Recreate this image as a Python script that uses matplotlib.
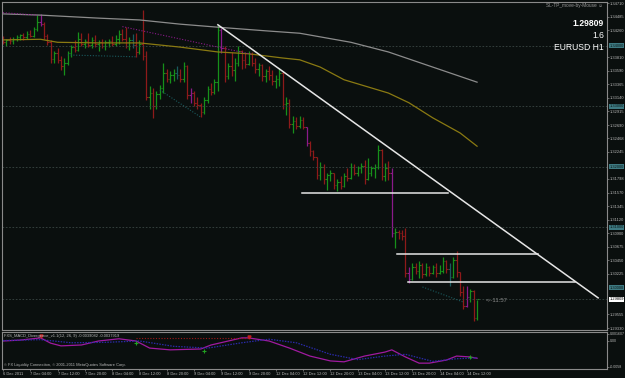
import numpy as np
import matplotlib.pyplot as plt

plt.rcParams['font.family'] = ['Liberation Sans', 'DejaVu Sans']

# EURUSD H1 bars, 6 Dec 20:00 .. 14 Dec 15:00
first_open = 1.3412
highs = [1.3416, 1.3412, 1.3414, 1.3415, 1.3418, 1.3420, 1.3422, 1.3424, 1.3426, 1.3432,
         1.3451, 1.3453, 1.3440, 1.3420, 1.3410, 1.3392, 1.3396, 1.3384, 1.3380, 1.3392,
         1.3402, 1.3410, 1.3423, 1.3422, 1.3412, 1.3421, 1.3414, 1.3418, 1.3410, 1.3412,
         1.3410, 1.3412, 1.3416, 1.3418, 1.3426, 1.3428, 1.3431, 1.3414, 1.3420, 1.3422,
         1.3410, 1.3459, 1.3392, 1.3334, 1.3330, 1.3326, 1.3336, 1.3372, 1.3362, 1.3358,
         1.3362, 1.3366, 1.3362, 1.3374, 1.3368, 1.3330, 1.3326, 1.3316, 1.3305, 1.3316,
         1.3334, 1.3338, 1.3345, 1.3435, 1.3430, 1.3400, 1.3372, 1.3390, 1.3380, 1.3400,
         1.3394, 1.3388, 1.3392, 1.3390, 1.3380, 1.3372, 1.3370, 1.3362, 1.3366, 1.3360,
         1.3352, 1.3364, 1.3358, 1.3316, 1.3312, 1.3284, 1.3282, 1.3284, 1.3282, 1.3266,
         1.3242, 1.3228, 1.3216, 1.3208, 1.3204, 1.3190, 1.3194, 1.3190, 1.3180, 1.3184,
         1.3190, 1.3198, 1.3206, 1.3204, 1.3202, 1.3206, 1.3212, 1.3214, 1.3202, 1.3204,
         1.3236, 1.3230, 1.3206, 1.3210, 1.3198, 1.3098, 1.3096, 1.3096, 1.3098, 1.3034,
         1.3040, 1.3040, 1.3044, 1.3040, 1.3040, 1.3036, 1.3038, 1.3040, 1.3038, 1.3050,
         1.3046, 1.3040, 1.3050, 1.3060, 1.3026, 1.3002, 1.3002, 1.2998, 1.2996, 1.2980]
lows = [1.3404, 1.3400, 1.3403, 1.3404, 1.3408, 1.3410, 1.3410, 1.3412, 1.3414, 1.3414,
        1.3424, 1.3433, 1.3412, 1.3402, 1.3372, 1.3372, 1.3372, 1.3360, 1.3352, 1.3368,
        1.3382, 1.3390, 1.3392, 1.3400, 1.3396, 1.3398, 1.3396, 1.3398, 1.3392, 1.3396,
        1.3394, 1.3398, 1.3400, 1.3400, 1.3404, 1.3408, 1.3396, 1.3394, 1.3396, 1.3382,
        1.3386, 1.3377, 1.3310, 1.3296, 1.3281, 1.3296, 1.3312, 1.3322, 1.3340, 1.3338,
        1.3342, 1.3346, 1.3340, 1.3340, 1.3312, 1.3306, 1.3300, 1.3296, 1.3282, 1.3288,
        1.3306, 1.3318, 1.3320, 1.3326, 1.3388, 1.3340, 1.3346, 1.3350, 1.3342, 1.3366,
        1.3362, 1.3364, 1.3368, 1.3366, 1.3356, 1.3350, 1.3342, 1.3340, 1.3344, 1.3336,
        1.3330, 1.3334, 1.3296, 1.3286, 1.3264, 1.3256, 1.3262, 1.3264, 1.3262, 1.3234,
        1.3218, 1.3212, 1.3180, 1.3178, 1.3172, 1.3162, 1.3176, 1.3164, 1.3160, 1.3164,
        1.3166, 1.3176, 1.3180, 1.3186, 1.3184, 1.3190, 1.3172, 1.3178, 1.3184, 1.3182,
        1.3196, 1.3178, 1.3176, 1.3178, 1.3084, 1.3066, 1.3080, 1.3078, 1.3018, 1.3008,
        1.3012, 1.3022, 1.3016, 1.3016, 1.3020, 1.3020, 1.3022, 1.3018, 1.3022, 1.3024,
        1.3024, 1.3002, 1.3016, 1.3018, 1.2986, 1.2964, 1.2968, 1.2976, 1.2944, 1.2946]
closes = [1.3406, 1.3410, 1.3408, 1.3412, 1.3415, 1.3418, 1.3414, 1.3420, 1.3417, 1.3428,
          1.3440, 1.3436, 1.3416, 1.3406, 1.3378, 1.3388, 1.3376, 1.3366, 1.3372, 1.3388,
          1.3398, 1.3394, 1.3412, 1.3404, 1.3408, 1.3402, 1.3410, 1.3404, 1.3406, 1.3400,
          1.3406, 1.3408, 1.3404, 1.3412, 1.3420, 1.3412, 1.3400, 1.3410, 1.3402, 1.3390,
          1.3404, 1.3384, 1.3316, 1.3322, 1.3300, 1.3320, 1.3330, 1.3356, 1.3346, 1.3352,
          1.3356, 1.3352, 1.3346, 1.3366, 1.3318, 1.3322, 1.3306, 1.3302, 1.3290, 1.3310,
          1.3328, 1.3324, 1.3340, 1.3426, 1.3396, 1.3350, 1.3366, 1.3360, 1.3372, 1.3392,
          1.3376, 1.3370, 1.3386, 1.3372, 1.3362, 1.3368, 1.3350, 1.3358, 1.3352, 1.3342,
          1.3346, 1.3356, 1.3304, 1.3306, 1.3270, 1.3276, 1.3268, 1.3278, 1.3266, 1.3240,
          1.3226, 1.3216, 1.3186, 1.3200, 1.3180, 1.3186, 1.3190, 1.3170, 1.3174, 1.3168,
          1.3184, 1.3182, 1.3200, 1.3190, 1.3198, 1.3202, 1.3180, 1.3190, 1.3198, 1.3200,
          1.3228, 1.3184, 1.3198, 1.3190, 1.3090, 1.3092, 1.3090, 1.3086, 1.3024, 1.3014,
          1.3034, 1.3028, 1.3038, 1.3022, 1.3034, 1.3024, 1.3034, 1.3024, 1.3028, 1.3044,
          1.3030, 1.3018, 1.3046, 1.3026, 1.2992, 1.2970, 1.2984, 1.2994, 1.2950, 1.2981]
magenta_bars = [11, 55, 64, 89, 114, 119, 136]
teal_bars = [38, 51, 131]

# moving averages (value at bar index)
ma_slow_idx = [0, 11, 28, 40, 52, 63, 77, 87, 93, 102, 113, 126, 139]
ma_slow = [1.3453, 1.3451, 1.3446, 1.3443, 1.3436, 1.3431, 1.3425, 1.3421, 1.3415,
           1.3406, 1.3390, 1.3365, 1.3340]
ma_fast_idx = [0, 11, 16, 28, 40, 52, 63, 72, 82, 87, 93, 100, 113, 119, 126, 134, 139]
ma_fast = [1.3410, 1.3411, 1.3406, 1.3405, 1.3405, 1.3398, 1.3390, 1.3387, 1.3380,
           1.3377, 1.3365, 1.3344, 1.3322, 1.3306, 1.3281, 1.3256, 1.3234]

# drawn objects
trend_x = [63, 174.5]
trend_y = [1.3435, 1.2983]
hlines_y = [1.31565, 1.30556, 1.30093]
hlines_x0 = [87.7, 115.5, 118.8]
hlines_x1 = [130.5, 156.9, 167.7]
levels = [1.34000, 1.33000, 1.32000, 1.31000]
bid = 1.29809
div_mag = [([0, 10], [1.3455, 1.3451]), ([35, 73], [1.3432, 1.3386])]
div_teal = [([19, 39], [1.3385, 1.3382]), ([46, 58], [1.3327, 1.3282]),
            ([123, 135], [1.3001, 1.2976])]

price_ticks = [1.34710, 1.34485, 1.34260, 1.33810, 1.33590, 1.33365, 1.33140, 1.32915,
               1.32690, 1.32468, 1.32245, 1.31798, 1.31570, 1.31345, 1.31120, 1.30900,
               1.30675, 1.30450, 1.30225, 1.29555, 1.29330]
box_ticks = [1.34000, 1.33000, 1.32000, 1.31000, 1.30000]

time_ticks = [0, 8, 16, 24, 32, 40, 48, 56, 64, 72, 80, 88, 96, 104, 112, 120, 128, 136]
time_labels = ['6 Dec 2011', '7 Dec 04:00', '7 Dec 12:00', '7 Dec 20:00', '8 Dec 04:00',
               '8 Dec 12:00', '8 Dec 20:00', '9 Dec 04:00', '9 Dec 12:00', '9 Dec 20:00',
               '12 Dec 04:00', '12 Dec 12:00', '12 Dec 20:00', '13 Dec 04:00',
               '13 Dec 12:00', '13 Dec 20:00', '14 Dec 04:00', '14 Dec 12:00']

# MACD divergence indicator
macd_idx = [0, 5, 11, 14, 17, 23, 28, 34, 39, 43, 49, 58, 61, 70, 72, 78, 84, 90, 96,
            100, 106, 112, 114, 118, 122, 125, 130, 133, 137, 139]
macd = [0.0000, 0.0002, 0.0007, -0.0005, -0.0011, -0.0009, 0.0000, 0.0005, 0.0000,
        -0.0016, -0.0020, -0.0018, -0.0009, 0.0007, 0.0007, 0.0000, -0.0016, -0.0034,
        -0.0045, -0.0047, -0.0034, -0.0025, -0.0020, -0.0036, -0.0050, -0.0050, -0.0043,
        -0.0034, -0.0036, -0.0039]
sig_idx = [0, 11, 20, 30, 40, 50, 60, 70, 78, 86, 96, 104, 112, 118, 126, 133, 139]
sig = [0.0001, 0.0003, -0.0004, -0.0003, 0.0000, -0.0012, -0.0016, -0.0004, 0.0004,
       -0.0004, -0.0030, -0.0042, -0.0034, -0.0030, -0.0046, -0.0040, -0.0038]

bg = '#0a0f0e'
grey_txt = '#b8b8b8'
green = '#17901a'
red = '#8e1a1a'
fs = 2.9

W, H = 625, 378
fig = plt.figure(figsize=(W / 100, H / 100), dpi=100, facecolor=bg)
ax = fig.add_axes([2 / W, (H - 330) / H, 605 / W, 328 / H], facecolor=bg)
axi = fig.add_axes([2 / W, (H - 369) / H, 605 / W, 37 / H], facecolor=bg)

for a in (ax, axi):
    a.set_xlim(-0.3, 177.1)
    for s in a.spines.values():
        s.set_color('#8a8a8a')
        s.set_linewidth(0.8)
ax.set_ylim(1.29298, 1.34727)
axi.set_ylim(-0.00632, 0.00203)

# bars
idx = np.arange(len(closes))
opens = np.array([first_open] + closes[:-1])
cl = np.array(closes)
cols = [green if c >= o else red for o, c in zip(opens, cl)]
for i in magenta_bars:
    cols[i] = '#8a1a8a'
for i in teal_bars:
    cols[i] = '#1a5a5e'
ax.vlines(idx, lows, highs, colors=cols, lw=0.9)
ax.hlines(opens, idx - 0.45, idx, colors=cols, lw=0.8)
ax.hlines(cl, idx, idx + 0.45, colors=cols, lw=0.8)

# level grid + bid
for lv in levels:
    ax.axhline(lv, color='#3a4644', lw=0.6, ls=(0, (2, 2)))
ax.axhline(bid, color='#3a4644', lw=0.6, ls=(0, (2, 2)))

# moving averages
ax.plot(ma_slow_idx, ma_slow, color='#8c8c8c', lw=0.9)
ax.plot(ma_fast_idx, ma_fast, color='#8a7a12', lw=0.9)

for xs, ys in div_mag:
    ax.plot(xs, ys, color='#8a1a8a', lw=0.8, ls=(0, (1, 1.5)))
for xs, ys in div_teal:
    ax.plot(xs, ys, color='#1a5a5e', lw=0.8, ls=(0, (1, 1.5)))

# trend line and horizontals
ax.plot(trend_x, trend_y, color='#e6e6e6', lw=1.1)
for y, x0, x1 in zip(hlines_y, hlines_x0, hlines_x1):
    ax.plot([x0, x1], [y, y], color='#e6e6e6', lw=1.1)

# price axis
ax.yaxis.tick_right()
ax.set_yticks(price_ticks)
ax.set_yticklabels(['%.5f' % p for p in price_ticks])
ax.tick_params(axis='y', colors='#8a8a8a', labelcolor=grey_txt, labelsize=fs,
               length=1.5, width=0.5, pad=0.8)
ax.tick_params(axis='x', bottom=False, labelbottom=False)
tr = ax.get_yaxis_transform()
for p in box_ticks:
    ax.text(1.004, p, '%.5f' % p, transform=tr, fontsize=fs, color='#0a1a1a',
            va='center', ha='left', clip_on=False,
            bbox=dict(boxstyle='square,pad=0.12', fc='#3e7a82', ec='none'))
ax.text(1.004, bid, '%.5f' % bid, transform=tr, fontsize=fs, color='black',
        va='center', ha='left', clip_on=False,
        bbox=dict(boxstyle='square,pad=0.12', fc='white', ec='none'))

# texts
fig.text(603 / W, 1 - 5 / H, 'SL-TP_move-by-Mouse \u263a', color='#9a9a9a', fontsize=3.4,
         ha='right', va='center')
fig.text(604 / W, 1 - 23 / H, '%.5f' % bid, color='white', fontsize=6.2,
         fontweight='bold', ha='right', va='center')
fig.text(604 / W, 1 - 35 / H, '1.6', color='white', fontsize=6.2, ha='right', va='center')
fig.text(604 / W, 1 - 48 / H, 'EURUSD H1', color='white', fontsize=6.2, ha='right',
         va='center')
fig.text(486 / W, 1 - 300 / H, '<--11:57', color='#8a8a8a', fontsize=4.2, ha='left',
         va='center')

# indicator
axi.plot(macd_idx, macd, color='#a01aa0', lw=0.9)
axi.plot(sig_idx, sig, color='#2a2aa8', lw=0.9, ls=(0, (1.2, 1)))
axi.plot([39, 72], [0.0007, 0.0007], color='#a01818', lw=0.8, ls=(0, (1, 1.5)))
axi.plot([11, 72], [0.0011, 0.0010], 'v', color='#c02020', ms=2.2, ls='none')
axi.plot([39, 59, 137], [-0.0004, -0.0022, -0.0036], '+', color='#20a020', ms=2.5,
         mew=0.8, ls='none')
axi.yaxis.tick_right()
axi.set_yticks([0.001607, 0.0, -0.00584])
axi.set_yticklabels(['0.001607', '0.00', '-0.0058'])
axi.tick_params(axis='y', colors='#8a8a8a', labelcolor=grey_txt, labelsize=2.6,
                length=1.5, width=0.5, pad=0.6)
axi.set_xticks(time_ticks)
axi.set_xticklabels(time_labels)
axi.tick_params(axis='x', colors='#8a8a8a', labelcolor=grey_txt, labelsize=fs,
                length=1.5, width=0.5, pad=0.6)
for lbl in axi.get_xticklabels():
    lbl.set_ha('left')
axi.text(0.003, 0.88, 'FXS_MACD_Divergence_v1.1(12, 26, 9) -0.0039082 -0.0037919',
         transform=axi.transAxes, color=grey_txt, fontsize=fs, va='center')
axi.text(0.003, 0.1, '\u00a9 FX Liquidity Connection, \u00a9 2001-2011 MetaQuotes Software Corp.',
         transform=axi.transAxes, color=grey_txt, fontsize=fs, va='center')

fig.savefig('out.png', dpi=100, facecolor=bg)
